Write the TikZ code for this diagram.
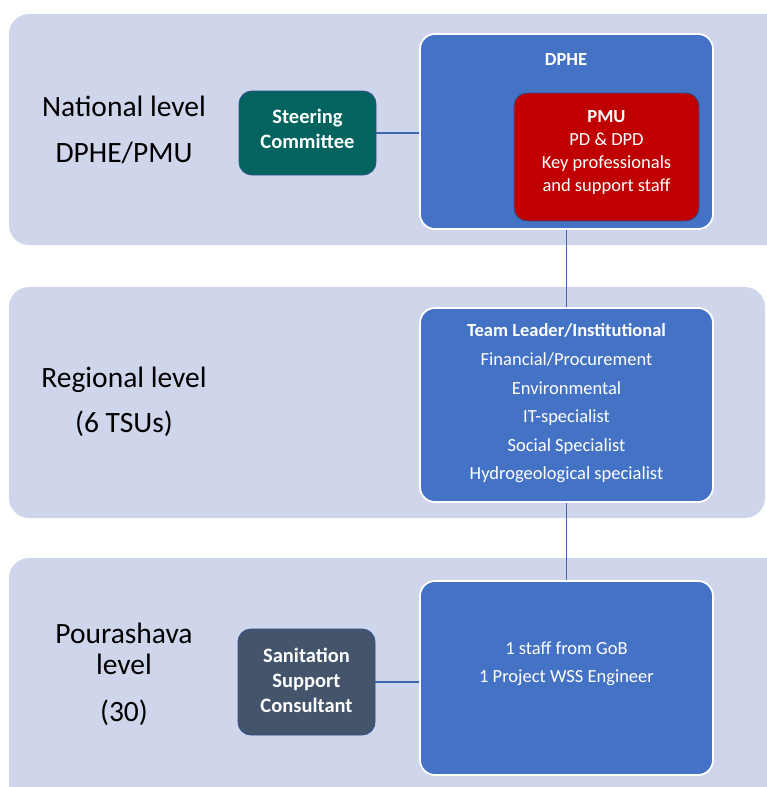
\documentclass[tikz,border=0pt]{standalone}
\usepackage{fontspec}
\setmainfont{Carlito}
\definecolor{band}{RGB}{207,213,234}
\definecolor{accblue}{RGB}{68,114,196}
\definecolor{pmured}{RGB}{192,0,0}
\definecolor{teal2}{RGB}{2,99,95}
\definecolor{slate}{RGB}{68,84,106}
\definecolor{edgeblue}{RGB}{47,82,143}
\definecolor{connblue}{RGB}{60,100,175}
\tikzset{
  bandbox/.style={fill=band, draw=none, rounded corners=20pt},
  bluebox/.style={draw=white, line width=1.8pt, fill=accblue, rounded corners=15pt, minimum width=293pt, minimum height=195pt, inner sep=0pt},
  smallbox/.style={draw=edgeblue, line width=0.9pt, rounded corners=13pt, inner sep=0pt},
  smalltxt/.style={text=white, align=center, inner sep=0pt, font=\fontsize{20.5}{25}\selectfont\bfseries},
  leveltxt/.style={align=center, text=black, inner sep=0pt},
  boxtxt/.style={align=center, text=white, inner sep=0pt, font=\fontsize{18.5}{28.6}\selectfont},
  conn/.style={draw=connblue, line width=1.6pt}
}
\begin{document}
\begin{tikzpicture}[x=1pt,y=-1pt]
\useasboundingbox (0,0) rectangle (767,787);
% bands
\fill[bandbox] (9,14) rectangle (790,245);
\fill[bandbox] (9,287) rectangle (765,518);
\fill[bandbox] (9,558) rectangle (790,820);
% level labels
\node[leveltxt, font=\fontsize{29.5}{46}\selectfont] (natl) at (124,130) {National level\\DPHE/PMU};
\node[leveltxt, font=\fontsize{29.5}{45}\selectfont] (regl) at (124,402) {Regional level\\(6 TSUs)};
\node[leveltxt, font=\fontsize{29.5}{31}\selectfont] (poul) at (124,674) {Pourashava\\level\\[16pt](30)};
% national
\node[bluebox] (dphe) at (566.5,131.5) {};
\node[boxtxt, font=\fontsize{18.5}{22}\selectfont\bfseries] (dphet) at (566,60) {DPHE};
\node[smallbox, fill=pmured, minimum width=185pt, minimum height=128pt] (pmu) at (606.5,157) {};
\node[boxtxt, font=\fontsize{18.5}{23}\selectfont] (pmut) at (606.5,152.5) {\textbf{PMU}\\PD \& DPD\\Key professionals\\and support staff};
\node[smallbox, fill=teal2, minimum width=137pt, minimum height=84pt] (steer) at (307.5,133) {};
\node[smalltxt] (steert) at (307.5,128.5) {Steering\\Committee};
% regional
\node[bluebox, minimum height=194pt] (team) at (566.5,405) {};
\node[boxtxt] (teamt) at (566.5,403.5) {\textbf{Team Leader/Institutional}\\Financial/Procurement\\Environmental\\IT-specialist\\Social Specialist\\Hydrogeological specialist};
% pourashava
\node[bluebox, minimum height=194pt] (pbox) at (566.5,678) {};
\node[boxtxt] (pboxt) at (566.5,663.5) {1 staff from GoB\\1 Project WSS Engineer};
\node[smallbox, fill=slate, minimum width=137pt, minimum height=106pt] (san) at (306.5,682) {};
\node[smalltxt] (sant) at (306.5,680) {Sanitation\\Support\\Consultant};
% connectors
\draw[conn] (steer.east) -- (steer.east -| dphe.west);
\draw[conn] (dphe.south) -- (team.north);
\draw[conn] (team.south) -- (pbox.north);
\draw[conn] (san.east) -- (san.east -| pbox.west);
\end{tikzpicture}
\end{document}
